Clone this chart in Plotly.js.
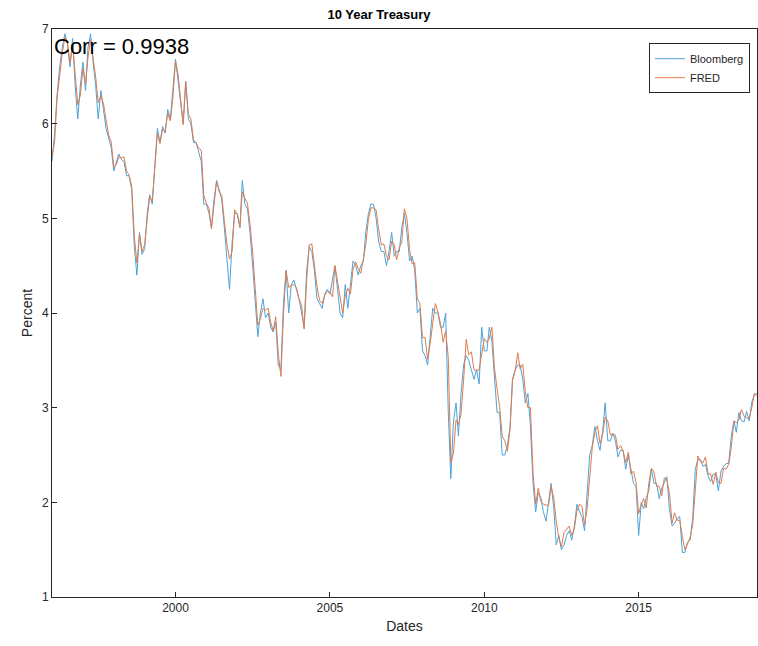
<!DOCTYPE html>
<html><head><meta charset="utf-8">
<script src="https://cdn.plot.ly/plotly-3.0.1.min.js"></script>
<style>body{margin:0;background:#fff}#c{width:758px;height:646px}</style>
</head><body><div id="c"></div>
<script>
const startYear = 1996;
const fred = [
5.65,5.81,6.27,6.51,6.74,6.91,6.87,6.64,6.83,6.53,6.20,6.30,
6.58,6.42,6.69,6.89,6.71,6.49,6.22,6.30,6.21,6.03,5.88,5.81,
5.54,5.57,5.65,5.64,5.65,5.50,5.46,5.34,4.81,4.53,4.83,4.65,
4.72,5.00,5.23,5.18,5.54,5.90,5.79,5.94,5.92,6.11,6.03,6.28,
6.66,6.52,6.26,5.99,6.44,6.10,6.05,5.83,5.80,5.74,5.72,5.24,
5.16,5.10,4.89,5.14,5.39,5.28,5.24,4.97,4.73,4.57,4.65,5.09,
5.04,4.91,5.28,5.21,5.16,4.93,4.65,4.26,3.87,3.94,4.05,4.03,
4.05,3.90,3.81,3.96,3.57,3.33,3.98,4.45,4.27,4.29,4.30,4.27,
4.15,4.08,3.83,4.35,4.72,4.73,4.50,4.28,4.13,4.10,4.19,4.23,
4.22,4.17,4.50,4.34,4.14,4.00,4.18,4.26,4.20,4.46,4.54,4.47,
4.42,4.57,4.72,4.99,5.11,5.11,5.09,4.88,4.72,4.73,4.60,4.56,
4.76,4.72,4.56,4.69,4.75,5.10,5.00,4.67,4.52,4.53,4.15,4.10,
3.74,3.74,3.51,3.68,3.88,4.10,4.01,3.89,3.69,3.81,3.53,2.42,
2.52,2.87,2.82,2.93,3.29,3.72,3.56,3.59,3.40,3.39,3.40,3.59,
3.73,3.69,3.73,3.85,3.42,3.20,3.01,2.70,2.65,2.54,2.76,3.29,
3.39,3.58,3.41,3.46,3.17,3.00,3.00,2.30,1.98,2.15,2.01,1.98,
1.97,1.97,2.17,2.05,1.80,1.62,1.53,1.68,1.72,1.75,1.65,1.72,
1.91,1.98,1.96,1.76,1.93,2.30,2.58,2.74,2.81,2.62,2.72,2.90,
2.86,2.71,2.72,2.71,2.56,2.60,2.54,2.42,2.53,2.30,2.33,2.21,
1.88,1.98,2.04,1.94,2.20,2.36,2.32,2.17,2.17,2.07,2.26,2.24,
2.09,1.78,1.89,1.81,1.81,1.64,1.50,1.56,1.63,1.76,2.14,2.49,
2.43,2.42,2.48,2.30,2.30,2.19,2.32,2.21,2.20,2.36,2.35,2.40,
2.58,2.86,2.84,2.87,2.98,2.91,2.89,2.89,3.00,3.15,3.12];
const bloomberg = [
5.60,5.90,6.30,6.60,6.80,6.95,6.85,6.60,6.90,6.40,6.05,6.40,
6.65,6.35,6.80,6.95,6.65,6.40,6.05,6.35,6.15,5.95,5.85,5.75,
5.50,5.60,5.68,5.62,5.60,5.45,5.45,5.30,4.70,4.40,4.85,4.62,
4.68,5.05,5.25,5.15,5.60,5.95,5.80,5.97,5.90,6.15,6.05,6.40,
6.68,6.45,6.20,6.00,6.45,6.05,6.00,5.80,5.80,5.70,5.60,5.15,
5.15,5.05,4.90,5.20,5.40,5.30,5.20,4.90,4.60,4.25,4.75,5.05,
5.05,4.90,5.40,5.15,5.10,4.85,4.50,4.15,3.75,4.00,4.15,3.95,
4.00,3.85,3.80,3.90,3.45,3.40,4.10,4.45,4.00,4.30,4.35,4.25,
4.15,4.00,3.85,4.45,4.70,4.65,4.45,4.15,4.10,4.05,4.20,4.25,
4.20,4.35,4.50,4.25,4.00,3.95,4.30,4.05,4.30,4.55,4.50,4.40,
4.50,4.55,4.85,5.05,5.15,5.15,5.00,4.75,4.65,4.65,4.50,4.65,
4.85,4.60,4.65,4.65,4.90,5.05,4.85,4.55,4.60,4.45,4.00,4.05,
3.60,3.55,3.45,3.75,4.05,4.00,4.00,3.85,3.85,4.00,2.95,2.25,
2.85,3.05,2.70,3.15,3.45,3.55,3.50,3.40,3.30,3.40,3.25,3.85,
3.60,3.60,3.85,3.70,3.30,2.95,2.95,2.50,2.50,2.60,2.80,3.30,
3.40,3.45,3.45,3.30,3.05,3.15,2.80,2.20,1.90,2.10,2.05,1.90,
1.80,1.98,2.20,1.95,1.55,1.65,1.50,1.55,1.65,1.70,1.60,1.75,
1.98,1.90,1.85,1.70,2.15,2.50,2.60,2.80,2.65,2.55,2.75,3.05,
2.65,2.65,2.73,2.65,2.48,2.55,2.55,2.35,2.50,2.35,2.20,2.17,
1.65,2.00,1.93,2.05,2.12,2.35,2.20,2.20,2.04,2.15,2.22,2.27,
1.92,1.75,1.78,1.83,1.85,1.47,1.47,1.58,1.60,1.83,2.35,2.45,
2.45,2.38,2.40,2.28,2.22,2.30,2.29,2.12,2.33,2.38,2.41,2.41,
2.70,2.86,2.74,2.95,2.86,2.85,2.96,2.86,3.06,3.14,3.15];
const corrLabel = 'Corr = 0.9938';
function dates(n){const d=[];for(let i=0;i<n;i++){const y=startYear+Math.floor(i/12),m=i%12+1;d.push(y+'-'+String(m).padStart(2,'0')+'-01');}return d;}
const ax = {showline:true,mirror:true,linecolor:'#262626',linewidth:1,ticks:'inside',ticklen:5,tickcolor:'#262626',showgrid:false,zeroline:false,tickfont:{size:12,color:'#262626'}};
Plotly.newPlot('c',[
 {x:dates(bloomberg.length),y:bloomberg,type:'scatter',mode:'lines',name:'Bloomberg',line:{color:'#4DA3D9',width:1}},
 {x:dates(fred.length),y:fred,type:'scatter',mode:'lines',name:'FRED',line:{color:'#E07B4C',width:1}}
],{
 width:758,height:646,margin:{l:52,r:1,t:29,b:49},
 paper_bgcolor:'#fff',plot_bgcolor:'#fff',
 font:{family:'Liberation Sans, Arial, sans-serif',color:'#262626'},
 title:{text:'<b>10 Year Treasury</b>',font:{size:13,color:'#000'},x:0.5,xanchor:'center',y:0.985},
 xaxis:Object.assign({},ax,{type:'date',range:['1996-01-01','2018-11-01'],tickvals:['2000-01-01','2005-01-01','2010-01-01','2015-01-01'],ticktext:['2000','2005','2010','2015'],title:{text:'Dates',font:{size:14},standoff:6}}),
 yaxis:Object.assign({},ax,{range:[1,7],dtick:1,title:{text:'Percent',font:{size:14},standoff:6}}),
 showlegend:true,
 legend:{x:0.99,y:0.975,xanchor:'right',yanchor:'top',bordercolor:'#262626',borderwidth:1,bgcolor:'#fff',font:{size:11},tracegroupgap:0,itemwidth:30},
 annotations:[{text:corrLabel,xref:'paper',yref:'paper',x:0,y:0.995,xanchor:'left',yanchor:'top',showarrow:false,font:{size:22,color:'#000'}}]
},{displayModeBar:false});
</script></body></html>
